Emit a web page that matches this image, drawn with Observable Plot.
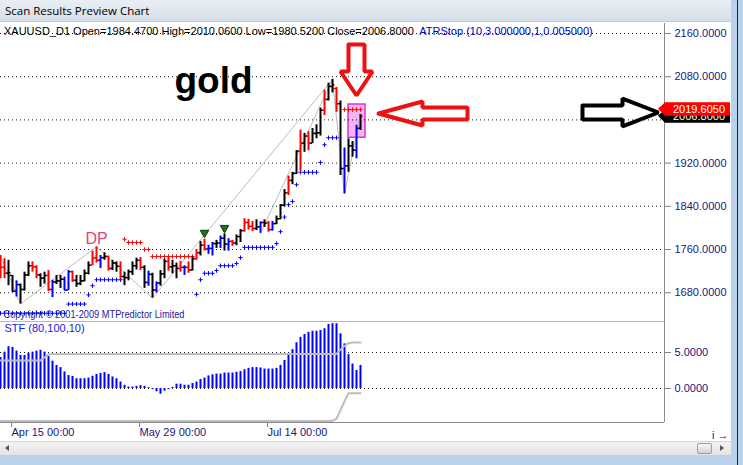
<!DOCTYPE html>
<html><head><meta charset="utf-8">
<script src="https://cdn.jsdelivr.net/npm/d3@7"></script>
<script src="https://cdn.jsdelivr.net/npm/@observablehq/plot@0.6"></script>
<style>
html,body{margin:0;padding:0;}
body{width:743px;height:465px;position:relative;overflow:hidden;background:#fff;font-family:"Liberation Sans",Arial,sans-serif;}
.abs{position:absolute;}
#title{left:0;top:0;width:743px;height:22px;background:linear-gradient(#eaeff5,#d5dee8);border-bottom:1px solid #c3ccd6;box-sizing:border-box;font:11.5px "Open Sans","Noto Sans",sans-serif;line-height:21px;padding-left:5px;color:#000;}
#hdr{left:4px;top:25px;font:11px "Liberation Sans",Arial,sans-serif;line-height:12px;white-space:pre;z-index:5;}
#p1{left:0;top:23px;}
#p2{left:0;top:321px;}
#scroll{left:0;top:441px;width:731px;height:14px;background:linear-gradient(#f3f3f3,#e4e4e4);border-top:1px solid #dadada;box-sizing:border-box;}
#thumb{left:697px;top:443px;width:15px;height:11px;border:1px solid #9c9c9c;border-radius:2px;background:linear-gradient(#f6f6f6,#d3d3d3);box-sizing:border-box;}
#larr{left:5px;top:445px;width:0;height:0;border-top:3.5px solid transparent;border-bottom:3.5px solid transparent;border-right:4px solid #555;}
#rarr{left:720px;top:445px;width:0;height:0;border-top:3.5px solid transparent;border-bottom:3.5px solid transparent;border-left:4px solid #555;}
#bottom{left:0;top:455px;width:743px;height:10px;background:#b9d1ea;}
#right{left:731px;top:0;width:12px;height:465px;background:#b9d1ea;z-index:6;}
#rline{left:737px;top:0;width:1px;height:465px;background:#222;z-index:7;}
</style></head><body>
<div id="title" class="abs">Scan Results Preview Chart</div>
<div id="p1" class="abs"></div>
<div id="p2" class="abs"></div>
<div id="hdr" class="abs"></div>
<div id="scroll" class="abs"></div>
<div id="larr" class="abs"></div>
<div id="thumb" class="abs"></div>
<div id="rarr" class="abs"></div>
<div id="bottom" class="abs"></div>
<div id="right" class="abs"></div>
<div id="rline" class="abs"></div>
<script>
// ---------- DATA ----------
const symbolName = "XAUUSD_D1";
const studyName = "ATRStop (10,3.000000,1,0.005000)";
const indicatorName = "STF (80,100,10)";
const copyrightText = "Copyright \u00a9 2001-2009 MTPredictor Limited";

const opens = [1714,1727,1716,1712,1683,1695,1686,1713,1730,1728,
1713,1707,1712,1686,1700,1702,1705,1685,1719,1703,
1697,1702,1716,1731,1745,1740,1745,1747,1725,1735,
1729,1710,1708,1719,1730,1740,1727,1699,1714,1685,
1698,1715,1738,1728,1730,1725,1727,1727,1722,1743,
1754,1768,1761,1762,1771,1772,1781,1770,1775,1772,
1784,1795,1810,1803,1799,1802,1810,1809,1797,1808,
1817,1842,1865,1888,1901,1942,1957,1970,1957,1975,
1976,2018,2038,2062,2058,2030,1910,1915,1952,1944,
1984.47];
const highs = [1749,1743,1740,1712,1702,1696,1718,1737,1737,1730,
1715,1718,1721,1703,1712,1712,1709,1721,1720,1712,
1712,1722,1737,1757,1765,1749,1754,1748,1740,1737,
1737,1718,1722,1737,1744,1745,1730,1720,1716,1700,
1721,1742,1746,1740,1735,1738,1730,1737,1746,1760,
1775,1779,1768,1773,1777,1785,1789,1780,1777,1787,
1797,1817,1816,1812,1815,1811,1815,1812,1812,1822,
1843,1871,1896,1903,1943,1981,1975,1978,1984,1991,
2022,2055,2068,2075,2060,2035,1948,1965,1960,1990,
2010.06];
const lows = [1706,1706,1693,1681,1672,1659,1683,1710,1718,1706,
1690,1696,1682,1671,1695,1688,1684,1684,1699,1690,
1693,1700,1713,1730,1735,1725,1740,1720,1721,1718,
1705,1693,1702,1712,1722,1721,1688,1692,1670,1680,
1692,1706,1720,1715,1706,1718,1712,1716,1720,1740,
1748,1757,1751,1748,1762,1762,1757,1757,1766,1767,
1773,1792,1796,1793,1795,1790,1801,1792,1794,1806,
1815,1839,1860,1880,1899,1905,1940,1943,1956,1965,
1970,2008,2035,2050,2014,1897,1863,1903,1931,1928,
1980.52];
const closes = [1727,1716,1717,1683,1695,1686,1713,1730,1728,1713,
1707,1712,1686,1700,1702,1705,1685,1719,1703,1697,
1702,1716,1731,1743,1740,1745,1747,1725,1735,1729,
1710,1708,1719,1730,1740,1727,1699,1714,1685,1698,
1715,1738,1728,1730,1725,1727,1727,1722,1743,1754,
1768,1761,1762,1771,1772,1781,1770,1775,1772,1784,
1795,1810,1803,1799,1802,1810,1809,1797,1808,1817,
1842,1865,1888,1901,1942,1957,1970,1957,1975,1976,
2018,2038,2062,2065,2030,1910,1915,1952,1944,1984,
2006.8];
// bar colour codes: b black, r red, u blue
const barColors = ("rrbbubbbrr" + "bbrubbuurb" + "bbbrrubrbb" + "rbbbbrbubu" + "bbrbbrurbr" +
                   "bruububurb" + "brrrbubrub" + "bbrbbrbrbb" + "brbbrbubbu" + "b").split("");

const stfValues = [4.3,5.05,5.8,5.7,5.2,4.6,4.6,4.9,5.05,5.2,
5.3,5.05,4.45,3.8,3.2,2.9,2.3,1.8,1.67,1.35,
1.35,1.35,1.45,1.7,1.95,2.1,2.2,1.95,1.6,1.35,
0.9,0.45,0.2,0.2,0.3,0.4,0.3,0.1,-0.15,-0.45,
-0.8,-0.37,-0.15,0.15,0.6,0.6,0.45,0.45,0.7,0.9,
1.25,1.45,1.75,1.9,2.0,2.0,2.15,2.15,2.15,2.25,
2.35,2.6,2.8,2.9,2.9,2.85,2.7,2.7,2.7,2.8,
3.2,3.9,4.7,5.4,6.35,7.1,7.5,7.8,7.95,7.95,
8.05,8.3,8.9,9.0,9.0,7.6,6.2,4.7,3.4,2.5,
3.2];
const stfUpper = [3.9,3.9,3.9,3.9,3.9,3.9,3.9,3.9,3.9,3.9,
3.9,4.3,4.75,4.8,4.8,4.8,4.8,4.8,4.8,4.8,
4.8,4.8,4.8,4.8,4.8,4.8,4.8,4.8,4.8,4.8,
4.8,4.8,4.8,4.8,4.8,4.8,4.8,4.8,4.8,4.8,
4.8,4.8,4.8,4.8,4.8,4.8,4.8,4.8,4.8,4.8,
4.8,4.8,4.8,4.8,4.8,4.8,4.8,4.8,4.8,4.8,
4.8,4.8,4.8,4.8,4.8,4.8,4.8,4.8,4.8,4.8,
4.8,4.8,4.8,4.8,4.8,4.8,4.8,4.8,4.8,4.8,
4.8,4.8,4.8,4.8,4.8,5.4,5.9,6.3,6.4,6.4,
6.4];
const stfLower = [-4.5,-4.5,-4.5,-4.5,-4.5,-4.5,-4.5,-4.5,-4.5,-4.5,
-4.5,-4.5,-4.5,-4.5,-4.5,-4.5,-4.5,-4.5,-4.5,-4.5,
-4.5,-4.5,-4.5,-4.5,-4.5,-4.5,-4.5,-4.5,-4.5,-4.5,
-4.5,-4.5,-4.5,-4.5,-4.5,-4.5,-4.5,-4.5,-4.5,-4.5,
-4.5,-4.5,-4.5,-4.5,-4.5,-4.5,-4.5,-4.5,-4.5,-4.5,
-4.5,-4.5,-4.5,-4.5,-4.5,-4.5,-4.5,-4.5,-4.5,-4.5,
-4.5,-4.5,-4.5,-4.5,-4.5,-4.5,-4.5,-4.5,-4.5,-4.5,
-4.5,-4.5,-4.5,-4.5,-4.5,-4.5,-4.5,-4.5,-4.5,-4.5,
-4.5,-4.5,-4.5,-4.5,-4.2,-3.0,-1.8,-0.65,-0.65,-0.65,
-0.65];

// ATR stop markers [bar index, price]
const atrBlue = [[0,1642],[1,1642],[2,1642],[3,1642],[4,1642],[5,1642],[6,1642],[7,1642],[8,1642],[9,1642],
[10,1642],[11,1642],[12,1642],[13,1642],[14,1642],[15,1642],[16,1642],
[17,1659],[18,1659],[19,1659],[20,1659],[21,1659],[22,1676],[23,1693],
[24,1704],[25,1704],[26,1704],[27,1704],[28,1704],[29,1704],[30,1704],
[49,1677],[50,1704],[51,1716],[52,1716],[53,1716],[54,1721],[55,1730],[56,1730],[57,1730],[58,1730],
[59,1734],[60,1745],[61,1764],[62,1764],[63,1764],[64,1764],[65,1764],[66,1764],[67,1764],[68,1764],
[69,1771],[70,1793],[71,1820],[72,1843],[73,1849],[74,1880],[75,1903],[76,1903],[77,1903],[78,1903],[79,1903],
[80,1921],[81,1954],[82,1967],[83,1967],[84,1967]];
const atrRed = [[31,1779],[32,1773],[33,1773],[34,1773],[35,1773],[36,1760],[37,1760],
[38,1747],[39,1747],[40,1747],[41,1747],[42,1747],[43,1747],[44,1747],[45,1747],[46,1747],[47,1747],[48,1747],
[86,2019],[87,2019],[88,2019],[89,2019],[90,2019]];

// swing lines [bar index, price]
const swingMain = [[0,1749],[5,1659],[24,1765],[38,1670],[83,2075],[86,1863],[90,2010]];
const swingSecond = [[65,1790],[83,2075]];
const signalMarks = [[51,1791],[56,1800]];
const zone = [{i1: 87, i2: 91.25, p1: 1967, p2: 2028.5}];

// annotations
const goldLabel = [{i: 43.5, p: 2050.7, text: "gold"}];
const dpLabel = [{i: 21.25, p: 1771, text: "DP"}];
const copyLabel = [{i: 0.75, p: 1634, text: copyrightText}];
const redDownArrow = [[87,2139.6],[91,2139.6],[91,2089.6],[93,2089.6],[89,2045.2],[85,2089.6],[87,2089.6],[87,2139.6]];
const redLeftArrow = [[94.5,2011.9],[105.5,2034.1],[105.5,2023.0],[116.75,2023.0],[116.75,2000.7],[105.5,2000.7],[105.5,1989.6],[94.5,2011.9]];
const blackRightArrow = [[145.5,2026.7],[155.5,2026.7],[155.5,2039.6],[164.5,2013.7],[155.5,1987.8],[155.5,2000.7],[145.5,2000.7],[145.5,2026.7]];
const priceMarkers = [{value: 2006.8, fill: "#000000"}, {value: 2019.605, fill: "#ff0000"}];

// axes
const priceTicks = [1680, 1760, 1840, 1920, 2000, 2080, 2160];
const priceTicksCovered = [2000]; // hidden behind the price markers in the reference
const stfTicks = [0, 5];
const xTickIdx = [2, 34, 66];
const xTickLabels = ["Apr 15 00:00", "May 29 00:00", "Jul 14 00:00"];
const priceDomain = [1626.7, 2178.5];
const stfDomain = [-4.722, 9.306];
const xDomain = [0, 166];

// ---------- BUILD ----------
const colorMap = {b: "#000000", r: "#ff0000", u: "#0000ff"};
const bars = opens.map((o, i) => ({i, open: o, high: highs[i], low: lows[i], close: closes[i], color: colorMap[barColors[i]]}));
const stf = stfValues.map((v, i) => ({i, v, up: stfUpper[i], lo: stfLower[i]}));
const navy = "#17177e";
const last = bars[bars.length - 1];

document.getElementById("hdr").innerHTML =
  `<span style="color:#000">${symbolName} Open=${last.open.toFixed(4)} High=${last.high.toFixed(4)} Low=${last.low.toFixed(4)} Close=${last.close.toFixed(4)}</span><span style="color:#0000c8">  ${studyName}</span>`;

const font = "Liberation Sans, Arial, sans-serif";
const pxy = {x: d => d[0], y: d => d[1]};

const chart1 = Plot.plot({
  width: 731, height: 298,
  marginLeft: 0, marginRight: 67, marginTop: 0, marginBottom: 0,
  x: {domain: xDomain, axis: null},
  y: {domain: priceDomain},
  color: {type: "identity"},
  style: {fontFamily: font, fontSize: "11px", background: "white", overflow: "visible"},
  marks: [
    Plot.rect(zone, {x1: "i1", x2: "i2", y1: "p1", y2: "p2", fill: "#f5b4ef", stroke: "#dc35dc", strokeWidth: 1.5}),
    Plot.gridY(priceTicks, {stroke: "#000", strokeOpacity: 0.9, strokeDasharray: "1,3"}),
    Plot.ruleX([xDomain[1]], {stroke: "#8a8a8a"}),
    Plot.axisY(priceTicks, {anchor: "right", tickFormat: d => priceTicksCovered.includes(d) ? "" : d.toFixed(4), tickSize: 6, tickPadding: 4, fontSize: 11, fill: navy, stroke: "#808080"}),
    Plot.line(swingMain, {...pxy, stroke: "#bcbcbc", strokeWidth: 1}),
    Plot.line(swingSecond, {...pxy, stroke: "#bcbcbc", strokeWidth: 1}),
    Plot.dot(atrBlue, {...pxy, symbol: "plus", r: 1.5, stroke: "#0000ff", strokeWidth: 1}),
    Plot.dot(atrRed, {...pxy, symbol: "plus", r: 1.5, stroke: "#ff0000", strokeWidth: 1}),
    Plot.ruleX(bars, {x: "i", y1: "low", y2: "high", stroke: "color", strokeWidth: 2}),
    Plot.ruleY(bars, {y: "open", x1: d => d.i - 0.6, x2: "i", stroke: "color", strokeWidth: 1.5}),
    Plot.ruleY(bars, {y: "close", x1: "i", x2: d => d.i + 0.6, stroke: "color", strokeWidth: 1.5}),
    Plot.dot(signalMarks, {...pxy, symbol: "triangle", rotate: 180, r: 3.2, fill: "#1f6e1f", stroke: "#0c3d0c", strokeWidth: 1}),
    Plot.text(goldLabel, {x: "i", y: "p", text: "text", textAnchor: "start", lineAnchor: "bottom", fontSize: 37, fontWeight: "bold", fill: "#000"}),
    Plot.text(dpLabel, {x: "i", y: "p", text: "text", textAnchor: "start", lineAnchor: "bottom", fontSize: 16, fill: "#e8426f"}),
    Plot.text(copyLabel, {x: "i", y: "p", text: "text", textAnchor: "start", lineAnchor: "bottom", fontSize: 11, fill: "#1c1c9a"}),
    Plot.line(redDownArrow, {...pxy, stroke: "#ee1111", strokeWidth: 4, strokeLinejoin: "miter"}),
    Plot.line(redLeftArrow, {...pxy, stroke: "#ee1111", strokeWidth: 4, strokeLinejoin: "miter"}),
    Plot.line(blackRightArrow, {...pxy, stroke: "#000", strokeWidth: 4, strokeLinejoin: "miter"})
  ]
});

// condense the copyright line to the narrow width it has in the reference
d3.select(chart1).selectAll("text").filter(function() { return this.textContent === copyrightText; })
  .attr("textLength", 181).attr("lengthAdjust", "spacingAndGlyphs");

// price markers on the right axis, positioned with the plot's own y scale
const ys = chart1.scale("y");
const yPix = v => (ys.apply ? ys.apply(v) : d3.scaleLinear(ys.domain, ys.range)(v));
const g = d3.select(chart1).append("g");
for (const m of priceMarkers) {
  const c = yPix(m.value);
  g.append("path").attr("d", `M658,${c} L665,${c - 6.5} L730,${c - 6.5} L730,${c + 7} L665,${c + 7} Z`).attr("fill", m.fill);
  g.append("text").attr("x", 673).attr("y", c + 4.5).attr("fill", "#fff").attr("font-size", 11)
    .attr("text-anchor", "start").attr("font-family", font).text(m.value.toFixed(4));
}
document.getElementById("p1").append(chart1);

const chart2 = Plot.plot({
  width: 731, height: 120,
  marginLeft: 0, marginRight: 67, marginTop: 0, marginBottom: 19,
  x: {domain: xDomain},
  y: {domain: stfDomain},
  style: {fontFamily: font, fontSize: "11px", background: "white", overflow: "visible"},
  marks: [
    Plot.gridY(stfTicks, {stroke: "#000", strokeOpacity: 0.9, strokeDasharray: "1,3"}),
    Plot.ruleX(stf, {x: "i", y1: 0, y2: "v", stroke: "#0000ff", strokeWidth: 2}),
    Plot.line(stf, {x: "i", y: "up", stroke: "#bdbdbd", strokeWidth: 2}),
    Plot.line(stf, {x: "i", y: "lo", stroke: "#bdbdbd", strokeWidth: 2}),
    Plot.ruleY([stfDomain[1]], {stroke: "#b8b8b8"}),
    Plot.ruleY([stfDomain[0]], {stroke: "#8a8a8a"}),
    Plot.ruleX([xDomain[1]], {y1: stfDomain[0], y2: stfDomain[1], stroke: "#8a8a8a"}),
    Plot.axisY(stfTicks, {anchor: "right", tickFormat: d => d.toFixed(4), tickSize: 6, tickPadding: 4, fontSize: 11, fill: navy, stroke: "#808080"}),
    Plot.axisX(xTickIdx, {anchor: "bottom", tickFormat: d => xTickLabels[xTickIdx.indexOf(d)], tickSize: 5, tickPadding: 1, textAnchor: "start", dx: 3, fontSize: 11, fill: navy, stroke: "#808080"}),
    Plot.text([indicatorName], {frameAnchor: "top-left", text: d => d, dx: 4, dy: 3, fontSize: 11, fill: "#1a1ae0"})
  ]
});
document.getElementById("p2").append(chart2);
</script>
</body></html>
